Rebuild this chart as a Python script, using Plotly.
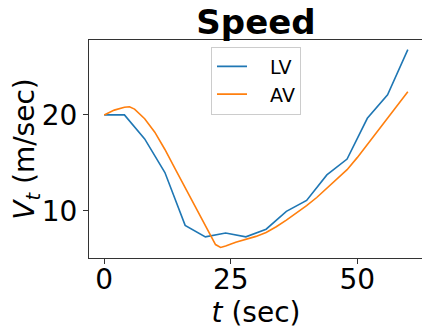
import plotly.graph_objects as go

t_lv = [0, 4, 8, 12, 16, 20, 24, 28, 32, 36, 40, 44, 48, 52, 56, 60]
v_lv = [20.0, 20.0, 17.5, 14.0, 8.5, 7.3, 7.7, 7.3, 8.1, 9.95, 11.1, 13.75, 15.4, 19.65, 22.1, 26.8]

t_av = [0, 2, 4, 5, 6, 8, 10, 12, 14, 16, 18, 20, 22, 23, 24, 26, 28, 30, 32, 34, 36, 38, 40,
        42, 44, 46, 48, 50, 52, 54, 56, 58, 60]
v_av = [20.0, 20.5, 20.8, 20.85, 20.6, 19.6, 18.2, 16.4, 14.4, 12.4, 10.4, 8.5, 6.5, 6.2,
        6.35, 6.75, 7.05, 7.35, 7.75, 8.35, 9.05, 9.8, 10.55, 11.4, 12.35, 13.3, 14.3,
        15.55, 16.9, 18.3, 19.65, 21.05, 22.4]

x_ticks = [0, 25, 50]
y_ticks = [10, 20]

FONT = "DejaVu Sans"
PAD = "\u00a0\u00a0\u00a0"

fig = go.Figure()
fig.add_trace(go.Scatter(x=t_lv, y=v_lv, mode="lines", name=PAD + "LV",
                         line=dict(color="#1f77b4", width=1.6)))
fig.add_trace(go.Scatter(x=t_av, y=v_av, mode="lines", name=PAD + "AV",
                         line=dict(color="#ff7f0e", width=1.6)))

axis_common = dict(showgrid=False, zeroline=False, showline=True, mirror=True,
                   linecolor="#333333", linewidth=1, ticks="outside", ticklen=5,
                   tickcolor="#333333", automargin=False,
                   tickfont=dict(family=FONT, size=28, color="black"))

# page body has an 8px margin, so the figure is drawn 8px in from the corner
fig.update_layout(
    width=422, height=328,
    margin=dict(l=81, r=7, t=32, b=78, autoexpand=False),
    paper_bgcolor="white", plot_bgcolor="white",
    font=dict(family=FONT, color="black"),
    title=dict(text="<b>Speed</b>", font=dict(family=FONT, size=34, color="black"),
               xref="paper", x=0.5, xanchor="center",
               yref="container", y=1 - 14 / 328, yanchor="middle", automargin=False),
    xaxis=dict(range=[-3, 63], tickvals=x_ticks, ticklabelstandoff=-9,
               title=dict(text="<i>t</i> (sec)", font=dict(family=FONT, size=28), standoff=0),
               **axis_common),
    yaxis=dict(range=[5.1, 27.8], tickvals=y_ticks,
               title=dict(text="<i>V</i><sub><i>t</i></sub> (m/sec)", font=dict(family=FONT, size=28),
                          standoff=0),
               **axis_common),
    legend=dict(x=0.5, xanchor="center", y=0.97, yanchor="top",
                bgcolor="white", bordercolor="#cccccc", borderwidth=1,
                font=dict(family=FONT, size=19, color="black")),
    showlegend=True,
)

fig.write_html("out.html")
